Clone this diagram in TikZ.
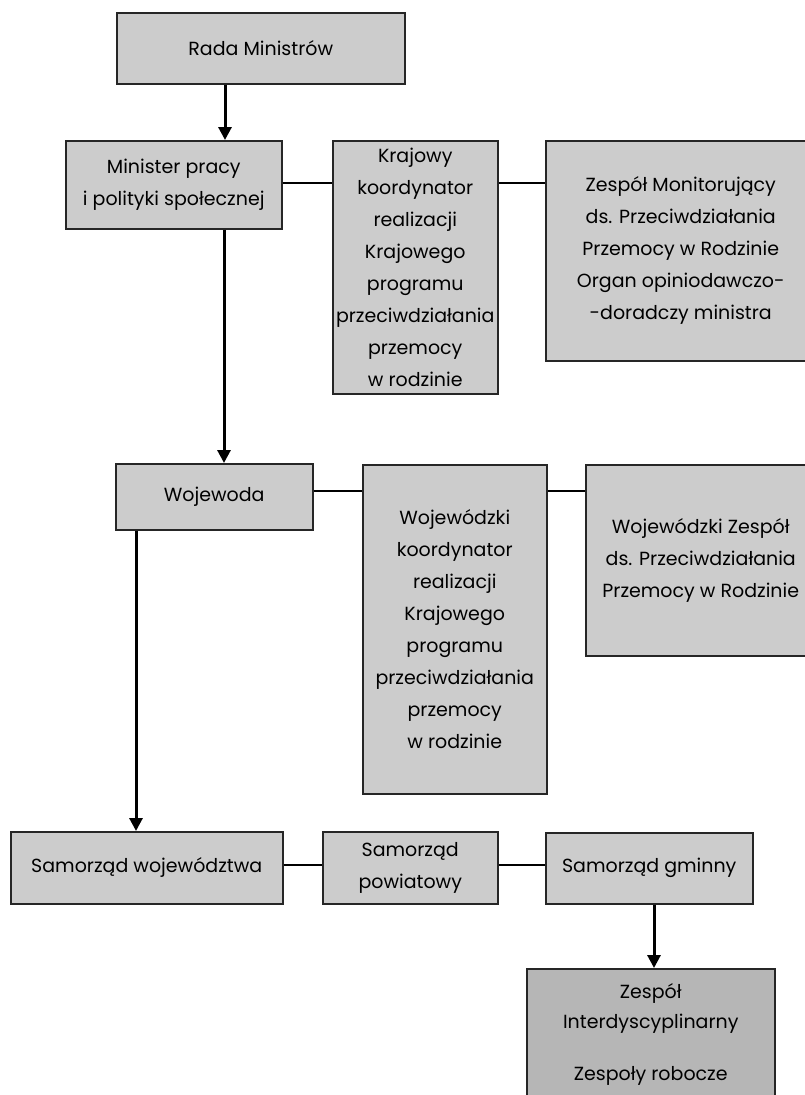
\documentclass[tikz,border=0pt]{standalone}
\usepackage{fontspec}
\setmainfont{Poppins}
\usetikzlibrary{arrows.meta,calc}
\definecolor{boxgray}{HTML}{CCCCCC}
\definecolor{boxdark}{HTML}{B6B6B6}
\tikzset{
  box/.style={draw=black!85, line width=1.5pt, fill=boxgray, anchor=north west, inner sep=0pt, align=center, font=\fontsize{19}{32}\selectfont},
  conn/.style={draw=black, line width=1.1pt},
  arr/.style={draw=black, line width=3pt, -{Triangle[length=13pt,width=13pt]}},
}
\begin{document}
\begin{tikzpicture}[x=1pt,y=-1pt]
\useasboundingbox (0,0) rectangle (804,1095);
\node[box, minimum width=288pt, minimum height=71pt] (rada) at (116,12) {Rada Ministrów};
\node[box, minimum width=216pt, minimum height=88pt] (min) at (65,140) {Minister pracy\\i polityki społecznej};
\node[box, minimum width=165pt, minimum height=253pt] (kk) at (332,140) {Krajowy\\koordynator\\realizacji\\Krajowego\\programu\\przeciwdziałania\\przemocy\\w rodzinie};
\node[box, minimum width=270pt, minimum height=220pt] (zm) at (545,140) {Zespół Monitorujący\\ds. Przeciwdziałania\\Przemocy w Rodzinie\\Organ opiniodawczo-\\-doradczy ministra};
\node[box, minimum width=197pt, minimum height=66pt] (woj) at (115,463) {Wojewoda};
\node[box, minimum width=184pt, minimum height=329pt] (wk) at (362,464) {Wojewódzki\\koordynator\\realizacji\\Krajowego\\programu\\przeciwdziałania\\przemocy\\w rodzinie};
\node[box, minimum width=230pt, minimum height=191pt] (wz) at (585,464) {Wojewódzki Zespół\\ds. Przeciwdziałania\\Przemocy w Rodzinie};
\node[box, minimum width=272pt, minimum height=72pt] (sw) at (10,831) {Samorząd województwa};
\node[box, minimum width=175pt, minimum height=72pt] (sp) at (322,831) {Samorząd\\powiatowy};
\node[box, minimum width=207pt, minimum height=71pt] (sg) at (545,832) {Samorząd gminny};
\node[box, fill=boxdark, minimum width=248pt, minimum height=150pt, anchor=north west, text depth=0pt] (zi) at (526,968) {};
\node[font=\fontsize{19}{30}\selectfont, align=center, anchor=north] (zit) at ($(zi.north)+(0,12)$) {Zespół\\Interdyscyplinarny\\[22pt]Zespoły robocze};
\coordinate (a1) at (225,0);
\coordinate (a2) at (224,0);
\coordinate (a3) at (136,0);
\coordinate (a4) at (654,0);
\coordinate (h1) at (0,183);
\coordinate (h2) at (0,491);
\coordinate (h3) at (0,865);
\draw[arr] (rada.south -| a1) -- (min.north -| a1);
\draw[arr] (min.south -| a2) -- (woj.north -| a2);
\draw[arr] (woj.south -| a3) -- (sw.north -| a3);
\draw[arr] (sg.south -| a4) -- (zi.north -| a4);
\draw[conn] (min.east |- h1) -- (kk.west |- h1);
\draw[conn] (kk.east |- h1) -- (zm.west |- h1);
\draw[conn] (woj.east |- h2) -- (wk.west |- h2);
\draw[conn] (wk.east |- h2) -- (wz.west |- h2);
\draw[conn] (sw.east |- h3) -- (sp.west |- h3);
\draw[conn] (sp.east |- h3) -- (sg.west |- h3);
\end{tikzpicture}
\end{document}
